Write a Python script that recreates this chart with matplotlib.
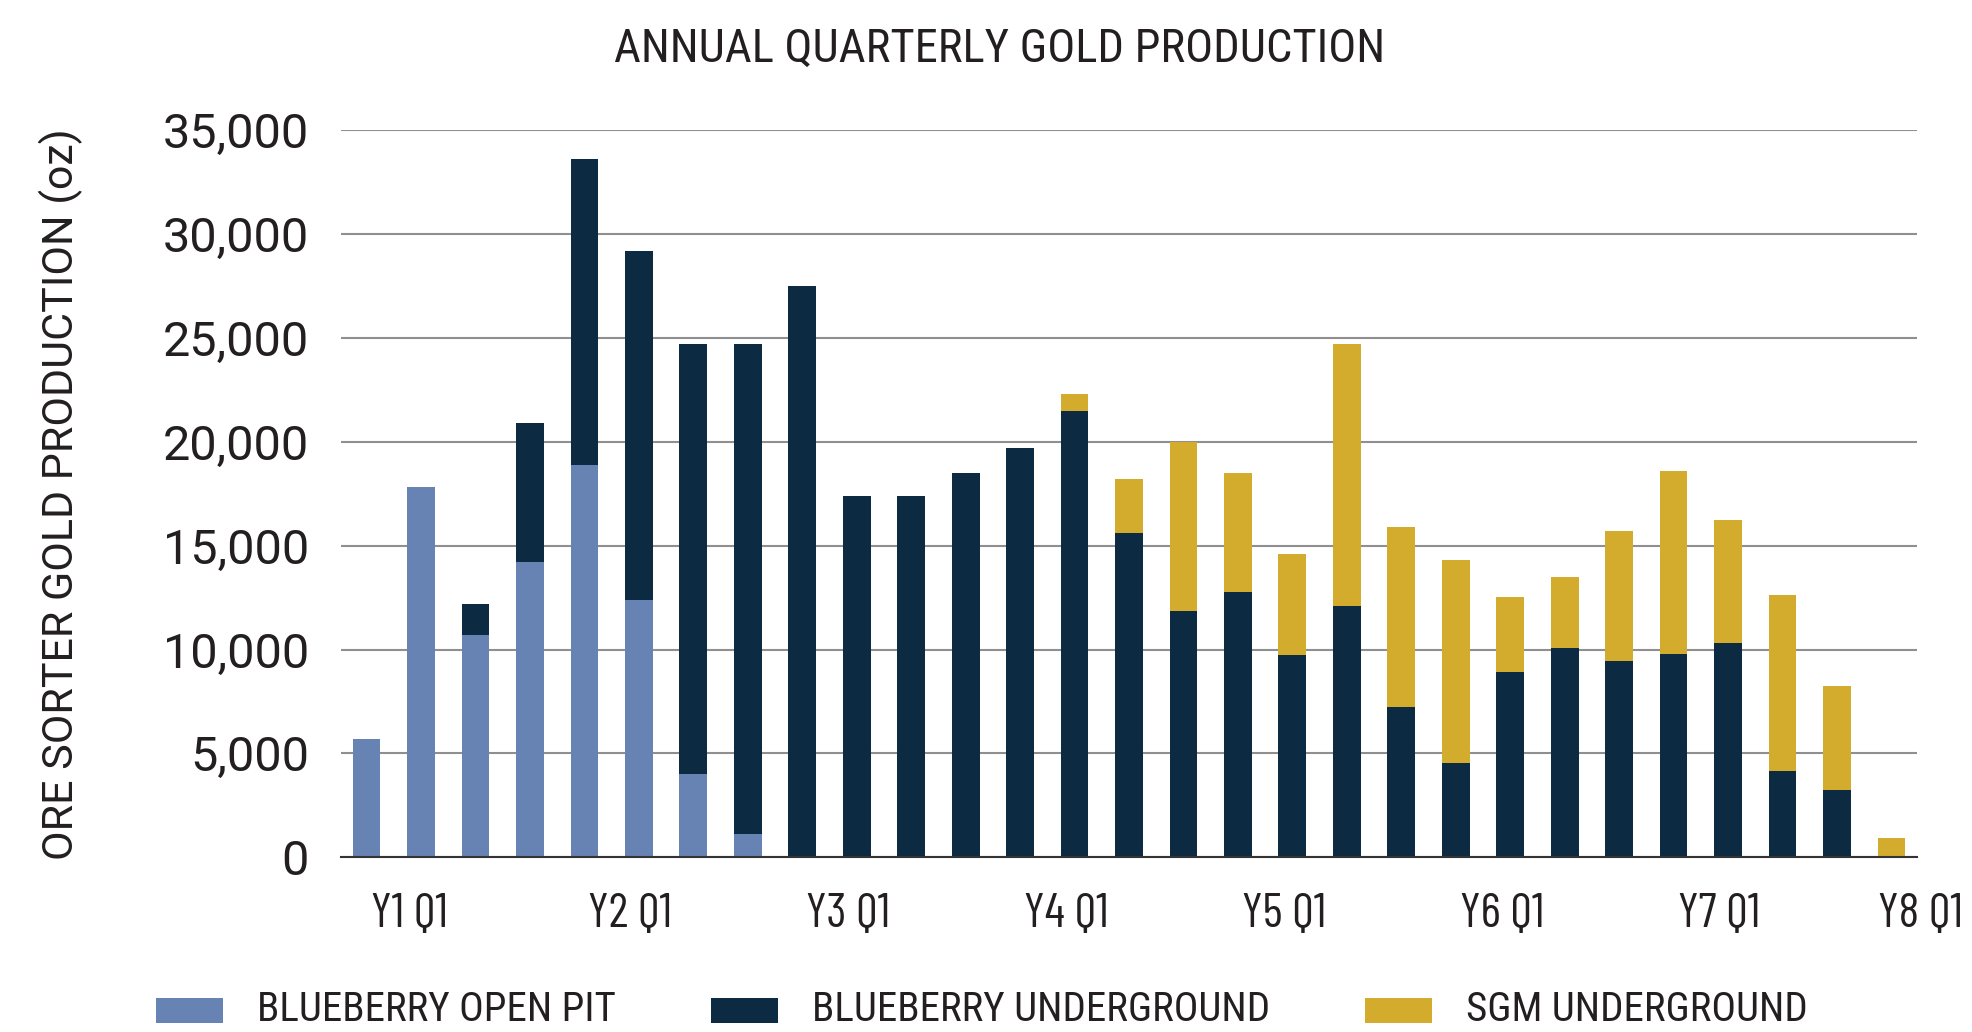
import matplotlib
matplotlib.use("Agg")
import matplotlib.pyplot as plt
from matplotlib.patches import Rectangle
from matplotlib.transforms import blended_transform_factory, ScaledTranslation

# ---------------- data ----------------
n_quarters = 29
tick_positions = [0, 4, 8, 12, 16, 20, 24, 28]
tick_labels = ["Y1 Q1", "Y2 Q1", "Y3 Q1", "Y4 Q1", "Y5 Q1", "Y6 Q1", "Y7 Q1", "Y8 Q1"]

open_pit = [5700, 17800, 10700, 14200, 18900, 12400, 4000, 1100,
            0, 0, 0, 0, 0, 0, 0, 0, 0, 0, 0, 0, 0, 0, 0, 0, 0, 0, 0, 0, 0]
underground = [0, 0, 1500, 6700, 14700, 16800, 20700, 23600,
               27500, 17400, 17400, 18500, 19700, 21500, 15600, 11850,
               12750, 9750, 12100, 7250, 4550, 8900, 10050, 9450,
               9800, 10300, 4150, 3250, 0]
sgm = [0, 0, 0, 0, 0, 0, 0, 0,
       0, 0, 0, 0, 0, 800, 2600, 8150,
       5750, 4850, 12600, 8650, 9750, 3650, 3450, 6250,
       8800, 5950, 8450, 5000, 950]

series_names = ["BLUEBERRY OPEN PIT", "BLUEBERRY UNDERGROUND", "SGM UNDERGROUND"]
colors = ["#6783B4", "#0C2A42", "#D3AC2E"]

# ---------------- style ----------------
F_COND = ["Roboto Condensed", "DejaVu Sans"]
F_XCOND = ["Barlow Condensed", "Roboto Condensed", "DejaVu Sans"]
F_REG = ["Roboto", "DejaVu Sans"]
plt.rcParams["font.family"] = F_COND
txt_color = "#231F20"

W, H, DPI = 1972, 1032, 100
fig = plt.figure(figsize=(W / DPI, H / DPI), dpi=DPI)
ax = fig.add_axes([341 / W, 1 - 857.3 / H, (1917 - 341) / W, (857.3 - 130) / H])

x = list(range(n_quarters))
bw = 0.51
bottom2 = [a + b for a, b in zip(open_pit, underground)]
ax.bar(x, open_pit, width=bw, color=colors[0], zorder=3)
ax.bar(x, underground, width=bw, bottom=open_pit, color=colors[1], zorder=3)
ax.bar(x, sgm, width=bw, bottom=bottom2, color=colors[2], zorder=3)

ax.set_xlim(-0.47, 28.47)
ax.set_ylim(0, 35000)
yt = list(range(0, 35001, 5000))
ax.set_yticks(yt)
ax.set_yticklabels([f"{v:,}" for v in yt], fontsize=35, color=txt_color, family=F_REG)
ax.yaxis.grid(True, color="#8f8f8f", linewidth=1.5, zorder=0)
ax.set_axisbelow(True)
for s in ("left", "right", "top"):
    ax.spines[s].set_visible(False)
ax.spines["bottom"].set_color("#333333")
ax.spines["bottom"].set_linewidth(1.5)
ax.spines["bottom"].set_zorder(4)
ax.tick_params(axis="y", length=0, pad=23)
ax.set_xticks(tick_positions)
ax.set_xticklabels([])
ax.tick_params(axis="x", length=0)

# x tick labels (left-aligned at each year's first quarter)
tr = blended_transform_factory(ax.transData, fig.transFigure)
for i, (p, lab) in enumerate(zip(tick_positions, tick_labels)):
    dx = 4 if i < len(tick_labels) - 1 else -13
    ax.text(p, 1 - 927 / H, lab, ha="left", va="baseline", fontsize=35, color=txt_color,
            family=F_XCOND,
            transform=tr + ScaledTranslation(dx / DPI, 0, fig.dpi_scale_trans), clip_on=False)

fig.text(1000 / W, 1 - 62 / H, "ANNUAL QUARTERLY GOLD PRODUCTION", ha="center", va="baseline",
         fontsize=33.5, color=txt_color)
fig.text(61 / W, 1 - 494.5 / H, "ORE SORTER GOLD PRODUCTION (oz)", rotation=90, ha="center",
         va="center", fontsize=31, color=txt_color, family=F_REG)

# legend
leg_x = [156, 711, 1365]
for xs, name, c in zip(leg_x, series_names, colors):
    fig.patches.append(Rectangle((xs / W, 1 - 1023 / H), 67 / W, 25 / H, transform=fig.transFigure,
                                 facecolor=c, edgecolor="none"))
    fig.text((xs + 101) / W, 1 - 1021 / H, name, ha="left", va="baseline", fontsize=29.5,
             color=txt_color)

fig.savefig("out.png", dpi=DPI)
